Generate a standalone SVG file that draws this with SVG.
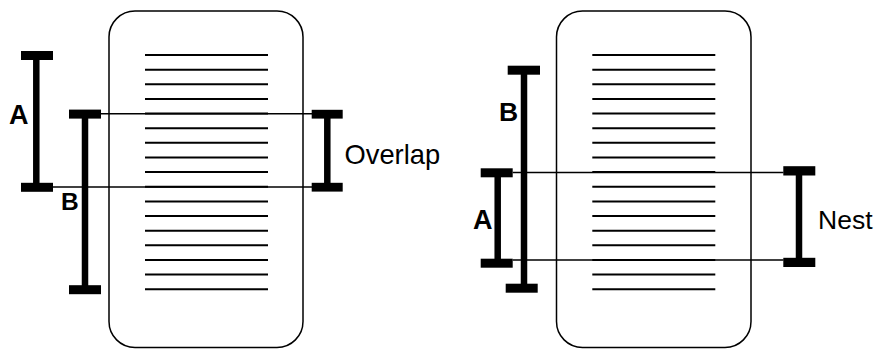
<svg xmlns="http://www.w3.org/2000/svg" width="883" height="349" viewBox="0 0 883 349">
<defs>
<style>
.panel{fill:#fff;stroke:#000;stroke-width:1.5}
.tl{stroke:#000;stroke-width:2}
.bar{stroke:#000;stroke-width:6.5}
.cap{fill:#000}
.conn{stroke:#000;stroke-width:1.5;fill:none}
.lbl{font-family:"Liberation Sans",Arial,sans-serif;font-weight:bold;fill:#000}
.txt{font-family:"Liberation Sans",Arial,sans-serif;fill:#000}
</style>
<g id="textlines">
<line class="tl" x1="0" y1="55" x2="123" y2="55"/>
<line class="tl" x1="0" y1="69.64" x2="123" y2="69.64"/>
<line class="tl" x1="0" y1="84.28" x2="123" y2="84.28"/>
<line class="tl" x1="0" y1="98.92" x2="123" y2="98.92"/>
<line class="tl" x1="0" y1="113.56" x2="123" y2="113.56"/>
<line class="tl" x1="0" y1="128.2" x2="123" y2="128.2"/>
<line class="tl" x1="0" y1="142.84" x2="123" y2="142.84"/>
<line class="tl" x1="0" y1="157.48" x2="123" y2="157.48"/>
<line class="tl" x1="0" y1="172.12" x2="123" y2="172.12"/>
<line class="tl" x1="0" y1="186.76" x2="123" y2="186.76"/>
<line class="tl" x1="0" y1="201.4" x2="123" y2="201.4"/>
<line class="tl" x1="0" y1="216.04" x2="123" y2="216.04"/>
<line class="tl" x1="0" y1="230.68" x2="123" y2="230.68"/>
<line class="tl" x1="0" y1="245.32" x2="123" y2="245.32"/>
<line class="tl" x1="0" y1="259.96" x2="123" y2="259.96"/>
<line class="tl" x1="0" y1="274.6" x2="123" y2="274.6"/>
<line class="tl" x1="0" y1="289.24" x2="123" y2="289.24"/>
</g>
</defs>

<g id="panel-left">
<rect class="panel" x="109" y="11" width="194" height="336.5" rx="26" ry="26"/>
<use href="#textlines" x="145" y="0"/>
</g>
<g id="panel-right">
<rect class="panel" x="556.5" y="11" width="194.5" height="336.5" rx="26" ry="26"/>
<use href="#textlines" x="592.3" y="0"/>
</g>

<g id="connectors">
<line class="conn" x1="101" y1="113.7" x2="312" y2="113.7"/>
<line class="conn" x1="52.7" y1="187" x2="312" y2="187"/>
<line class="conn" x1="512.7" y1="172.5" x2="783.5" y2="172.5"/>
<line class="conn" x1="512.7" y1="260" x2="783.5" y2="260"/>
</g>

<g id="bar-left-A">
<line class="bar" x1="36.3" y1="55.5" x2="36.3" y2="187.3"/>
<rect class="cap" x="21" y="51" width="32" height="9"/>
<rect class="cap" x="21" y="182.8" width="32" height="9"/>
<text class="lbl" x="9" y="124.3" font-size="27">A</text>
</g>
<g id="bar-left-B">
<line class="bar" x1="85" y1="114" x2="85" y2="289.7"/>
<rect class="cap" x="69" y="109.6" width="32" height="9"/>
<rect class="cap" x="69" y="285.2" width="32" height="9"/>
<text class="lbl" x="61" y="210.2" font-size="24.5">B</text>
</g>
<g id="bar-overlap">
<line class="bar" x1="327.3" y1="114" x2="327.3" y2="187.2"/>
<rect class="cap" x="311.7" y="109.8" width="31" height="8.8"/>
<rect class="cap" x="311.7" y="182.8" width="31" height="8.8"/>
<text class="txt" x="344.5" y="164.3" font-size="27.3">Overlap</text>
</g>

<g id="bar-right-B">
<line class="bar" x1="524" y1="70" x2="524" y2="288.2"/>
<rect class="cap" x="507.7" y="65.7" width="32.3" height="9"/>
<rect class="cap" x="505.7" y="283.7" width="32" height="9"/>
<text class="lbl" x="499" y="121" font-size="26.5">B</text>
</g>
<g id="bar-right-A">
<line class="bar" x1="497.7" y1="172.8" x2="497.7" y2="263.2"/>
<rect class="cap" x="480.7" y="168.3" width="32" height="9"/>
<rect class="cap" x="480.7" y="258.7" width="32" height="9"/>
<text class="lbl" x="473" y="229.3" font-size="27">A</text>
</g>
<g id="bar-nest">
<line class="bar" x1="799" y1="171" x2="799" y2="262.3"/>
<rect class="cap" x="783.3" y="166.2" width="32" height="9.3"/>
<rect class="cap" x="783.3" y="257.8" width="32" height="9.2"/>
<text class="txt" x="818" y="229.3" font-size="26.5">Nest</text>
</g>
</svg>
